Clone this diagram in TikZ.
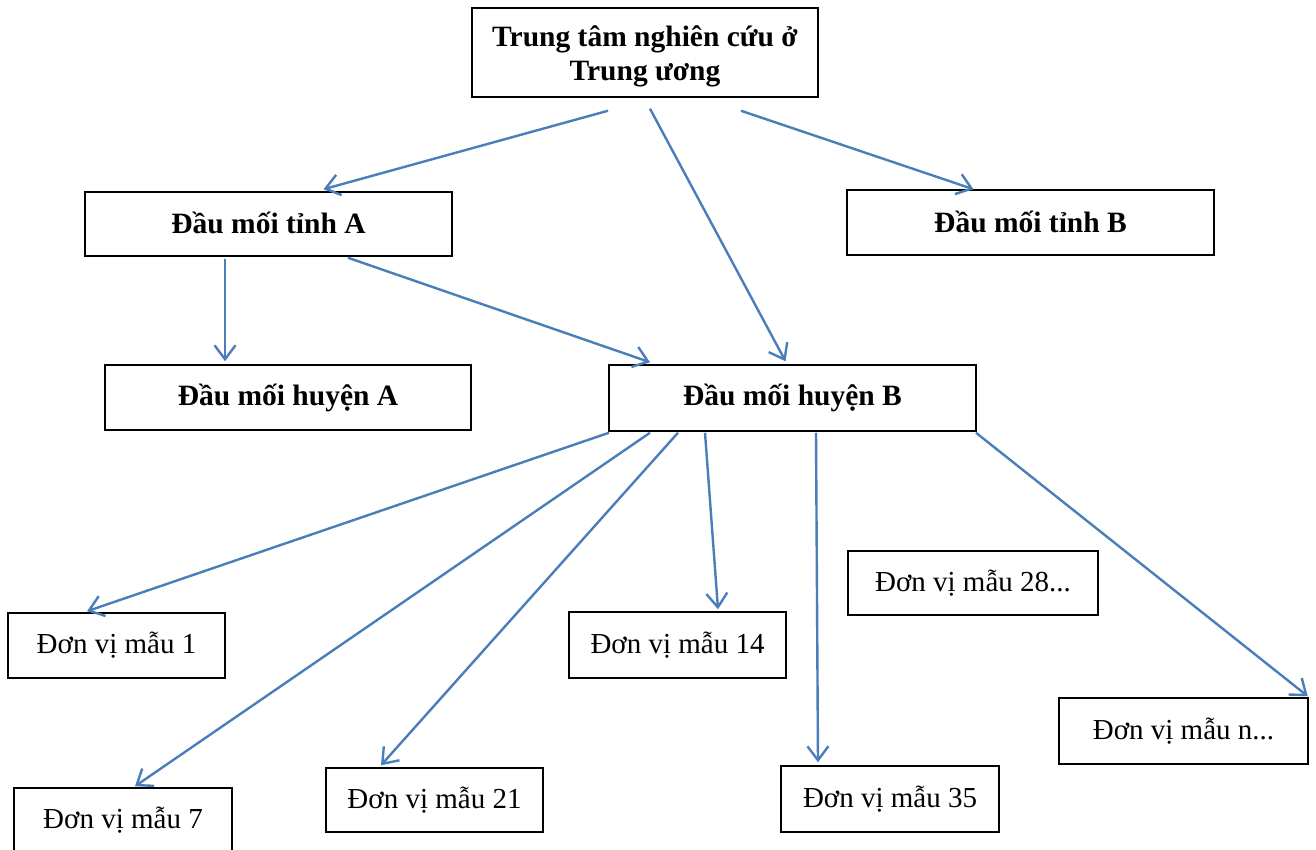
\documentclass[tikz,border=0pt]{standalone}
\usepackage{fontspec}
\setmainfont{Liberation Serif}
\usetikzlibrary{arrows.meta,calc}
\definecolor{arrowblue}{HTML}{4A7EBB}
\begin{document}
\begin{tikzpicture}[x=1pt,y=-1pt,
  box/.style={draw=black,line width=1.5pt,inner sep=0pt,align=center,font=\fontsize{29}{34}\selectfont},
  bbox/.style={box,font=\fontsize{29.5}{34}\selectfont\bfseries},
  arr/.style={draw=arrowblue,line width=2.4pt,-{Straight Barb[length=14pt,width=21pt,line width=2.4pt]}}]
\useasboundingbox (0,0) rectangle (1316,850);
\fill[white] (0,0) rectangle (1316,850);
% boxes
\node[bbox,minimum width=346pt,minimum height=89pt] (top) at (645,52.5) {};
\node[font=\fontsize{29.5}{34}\selectfont\bfseries,align=center,inner sep=0pt] (toptext) at ($(top.center)+(0,4)$) {Trung tâm nghiên cứu ở\\Trung ương};
\node[bbox,minimum width=367pt,minimum height=64pt] (tA) at (268.5,224) {\raisebox{2pt}{Đầu mối tỉnh A}};
\node[bbox,minimum width=367pt,minimum height=65pt] (tB) at (1030.5,222.5) {\raisebox{2pt}{Đầu mối tỉnh B}};
\node[bbox,minimum width=366pt,minimum height=65pt] (hA) at (288,397.5) {\raisebox{2pt}{Đầu mối huyện A}};
\node[bbox,minimum width=367pt,minimum height=66pt] (hB) at (792.5,398) {\raisebox{2pt}{Đầu mối huyện B}};
\node[box,minimum width=217pt,minimum height=65pt] (u1) at (116.5,645.5) {Đơn vị mẫu 1};
\node[box,minimum width=217pt,minimum height=66pt] (u14) at (677.5,645) {Đơn vị mẫu 14};
\node[box,minimum width=250pt,minimum height=64pt] (u28) at (973,583) {Đơn vị mẫu 28...};
\node[box,minimum width=249pt,minimum height=66pt] (un) at (1183.5,731) {Đơn vị mẫu n...};
\node[box,minimum width=218pt,minimum height=64pt] (u7) at (123,820) {Đơn vị mẫu 7};
\node[box,minimum width=217pt,minimum height=64pt] (u21) at (434.5,800) {Đơn vị mẫu 21};
\node[box,minimum width=218pt,minimum height=66pt] (u35) at (890,799) {Đơn vị mẫu 35};
% arrows
\draw[arr] ($(top.south)+(-37,13)$) -- ($(tA.north)+(55,-2)$);
\draw[arr] ($(top.south)+(5,11)$) -- ($(hB.north)+(-7,-3)$);
\draw[arr] ($(top.south)+(96,13)$) -- ($(tB.north)+(-57,0)$);
\draw[arr] ($(tA.south)+(-43.5,2)$) -- ($(hA.north)+(-63,-3)$);
\draw[arr] ($(tA.south)+(79.5,1)$) -- ($(hB.north)+(-142.5,-2)$);
\draw[arr] ($(hB.south)+(-183.5,1)$) -- ($(u1.north)+(-29.5,-1)$);
\draw[arr] ($(hB.south)+(-142.5,1)$) -- ($(u7.north)+(12,-1)$);
\draw[arr] ($(hB.south)+(-114.5,1)$) -- ($(u21.north)+(-53.5,-2)$);
\draw[arr] ($(hB.south)+(-87.5,1)$) -- ($(u14.north)+(40.5,-2)$);
\draw[arr] ($(hB.south)+(23.5,1)$) -- ($(u35.north)+(-72,-3)$);
\draw[arr] ($(hB.south)+(183.5,1)$) -- ($(un.north east)+(-1,-1)$);
\end{tikzpicture}
\end{document}
